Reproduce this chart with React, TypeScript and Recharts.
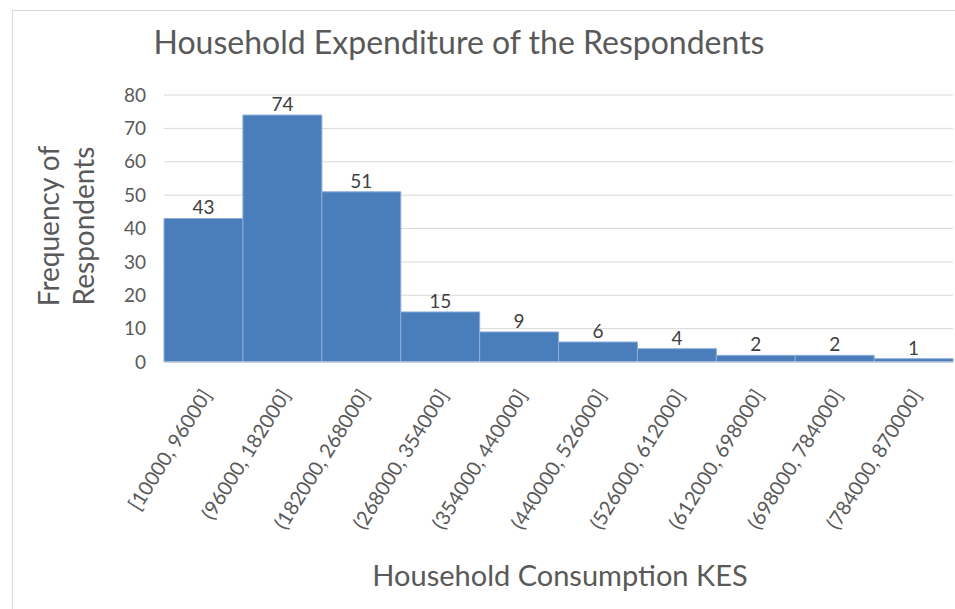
import React from "react";
import { BarChart, Bar, XAxis, YAxis, CartesianGrid, LabelList } from "recharts";

const BINS = [
  "[10000, 96000]",
  "(96000, 182000]",
  "(182000, 268000]",
  "(268000, 354000]",
  "(354000, 440000]",
  "(440000, 526000]",
  "(526000, 612000]",
  "(612000, 698000]",
  "(698000, 784000]",
  "(784000, 870000]",
];
const COUNTS = [43, 74, 51, 15, 9, 6, 4, 2, 2, 1];
const Y_TICKS = [0, 10, 20, 30, 40, 50, 60, 70, 80];

const FONT = "Lato, 'Open Sans', sans-serif";
const TEXT = "#595959";

const data = BINS.map((bin, i) => ({ bin, count: COUNTS[i] }));

function BinTick(props: any) {
  const { x, y, payload } = props;
  const ax = x + 9;
  const ay = y + 25;
  return (
    <text
      x={ax}
      y={ay}
      textAnchor="end"
      fill={TEXT}
      fontSize={20}
      fontFamily={FONT}
      transform={`rotate(-58, ${ax}, ${ay})`}
    >
      {payload.value}
    </text>
  );
}

export default function App() {
  return (
    <div style={{ position: "absolute", left: 0, top: 0, width: 955, height: 609, background: "#fff", overflow: "hidden" }}>
      <div
        style={{
          position: "absolute",
          left: 12,
          top: 10,
          width: 960,
          height: 620,
          border: "1px solid #d9d9d9",
        }}
      />
      <div
        style={{
          position: "absolute",
          left: 0,
          top: 22,
          width: 918,
          textAlign: "center",
          fontFamily: FONT,
          fontSize: 32,
          color: TEXT,
        }}
      >
        Household Expenditure of the Respondents
      </div>
      <div style={{ position: "absolute", left: 66, top: 226, width: 0, height: 0 }}>
        <div
          style={{
            position: "absolute",
            transform: "translate(-50%, -50%) rotate(-90deg)",
            fontFamily: FONT,
            fontSize: 28,
            color: TEXT,
            textAlign: "center",
            lineHeight: "35px",
            whiteSpace: "nowrap",
          }}
        >
          Frequency of
          <br />
          Respondents
        </div>
      </div>
      <div
        style={{
          position: "absolute",
          left: 0,
          top: 557,
          width: 1120,
          textAlign: "center",
          fontFamily: FONT,
          fontSize: 29,
          color: TEXT,
        }}
      >
        Household Consumption KES
      </div>
      <div style={{ position: "absolute", left: 0, top: 0 }}>
        <BarChart
          width={955}
          height={609}
          data={data}
          barCategoryGap={0}
          margin={{ top: 95, right: 2, left: 104, bottom: 127 }}
        >
          <CartesianGrid vertical={false} stroke="#d9d9d9" />
          <XAxis
            dataKey="bin"
            interval={0}
            height={120}
            tickLine={false}
            axisLine={{ stroke: "#d9d9d9" }}
            tick={<BinTick />}
          />
          <YAxis
            width={60}
            domain={[0, 80]}
            ticks={Y_TICKS}
            tickLine={false}
            axisLine={false}
            tickSize={0}
            tickMargin={18}
            tick={{ fill: TEXT, fontSize: 19, fontFamily: FONT }}
          />
          <Bar dataKey="count" fill="#4a7ebb" stroke="#8eaedb" strokeWidth={1} isAnimationActive={false}>
            <LabelList dataKey="count" position="top" fill="#404040" fontSize={19} fontFamily={FONT} offset={4} />
          </Bar>
        </BarChart>
      </div>
    </div>
  );
}
